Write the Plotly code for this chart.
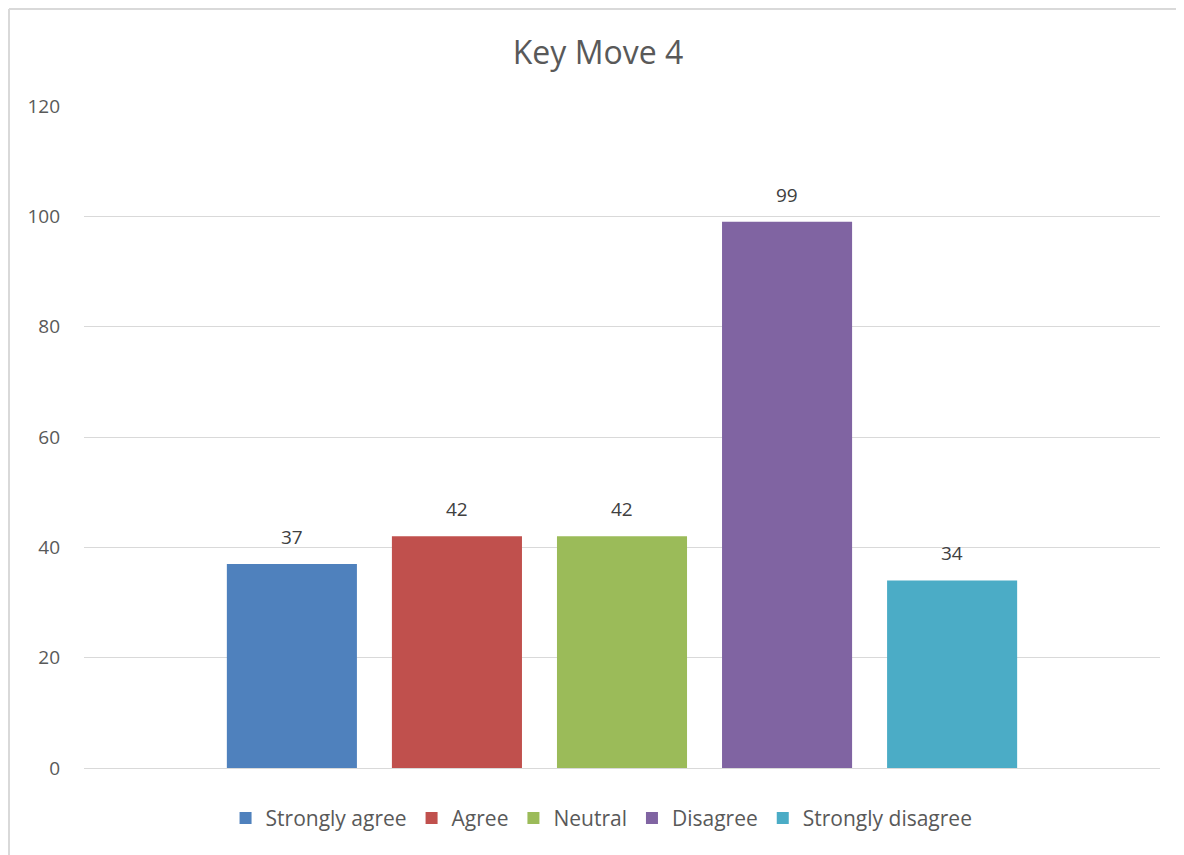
import plotly.graph_objects as go

# data
categories = ["Key Move 4"]
series_names = ["Strongly agree", "Agree", "Neutral", "Disagree", "Strongly disagree"]
series_values = [37, 42, 42, 99, 34]
series_colors = ["#4F81BD", "#C0504D", "#9BBB59", "#8064A2", "#4BACC6"]
y_ticks = [0, 20, 40, 60, 80, 100, 120]

FONT = "Open Sans, Liberation Sans, sans-serif"
BARGAP = 0.233
BARGROUPGAP = 0.212

fig = go.Figure()
for name, val, col in zip(series_names, series_values, series_colors):
    fig.add_trace(go.Bar(
        x=categories,
        y=[val],
        name=name,
        marker=dict(color=col, line=dict(width=0)),
    ))

# value labels sit a bit higher above the bars than plotly's outside text,
# so place them as annotations at the centre of each grouped bar
n = len(series_names)
slot = (1 - BARGAP) / n
for i, val in enumerate(series_values):
    fig.add_annotation(
        x=-(1 - BARGAP) / 2 + slot * (i + 0.5), y=val,
        xref="x", yref="y", text=str(val), showarrow=False,
        yanchor="bottom", yshift=12,
        font=dict(size=19, color="#404040", family=FONT),
    )

fig.update_layout(
    width=1176,
    height=847,
    margin=dict(l=76, r=24, t=98, b=87),
    paper_bgcolor="white",
    plot_bgcolor="white",
    font=dict(family=FONT, color="#595959", size=18),
    title=dict(text="Key Move 4", x=(598 - 8) / 1176, xanchor="center",
               y=1 - 45 / 847, yanchor="middle",
               font=dict(size=32, color="#595959", family=FONT)),
    barmode="group",
    bargap=BARGAP,
    bargroupgap=BARGROUPGAP,
    showlegend=True,
    legend=dict(orientation="h", x=0.481, xanchor="center", y=-0.045, yanchor="top",
                font=dict(size=21, color="#595959"), itemwidth=30,
                traceorder="normal"),
    xaxis=dict(range=[-0.5, 0.5], showticklabels=False, showgrid=False, zeroline=False,
               showline=False, ticks=""),
    yaxis=dict(range=[0, 120], tickvals=y_ticks, showgrid=True, gridcolor="#D9D9D9",
               gridwidth=1, zeroline=True, zerolinecolor="#D9D9D9", zerolinewidth=1,
               showline=False, ticks="", ticklabelstandoff=23,
               tickfont=dict(size=19, color="#595959")),
)

# chart frame (left and top edges visible in the reference)
top = 1 + 97 / 662
fig.add_shape(type="line", xref="paper", yref="paper",
              x0=-75 / 1076, x1=-75 / 1076, y0=-100 / 662, y1=top,
              line=dict(color="#D9D9D9", width=2))
fig.add_shape(type="line", xref="paper", yref="paper",
              x0=-75 / 1076, x1=1.1, y0=top, y1=top,
              line=dict(color="#D9D9D9", width=2))

fig.write_html("out.html")
